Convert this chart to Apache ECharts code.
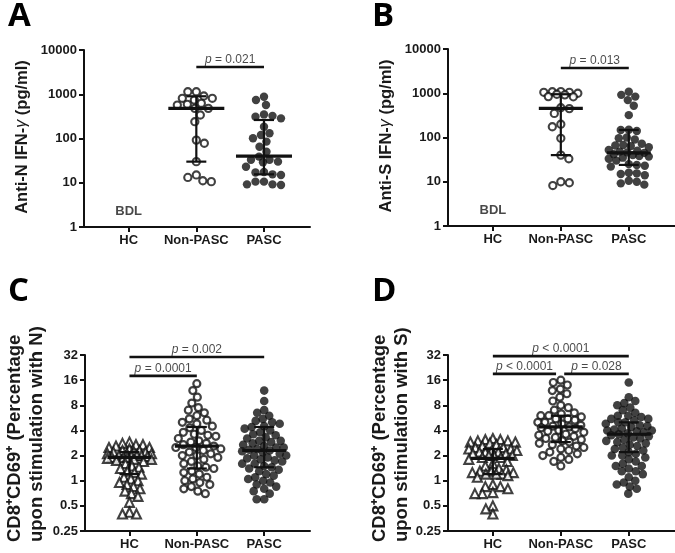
<!DOCTYPE html>
<html><head><meta charset="utf-8">
<script src="https://cdn.jsdelivr.net/npm/echarts@6/dist/echarts.min.js"></script>
<style>html,body{margin:0;padding:0;background:#fff}#c{width:675px;height:553px}</style>
</head><body><div id="c"></div>
<script>
// ---------- data ----------
const categories = ['HC', 'Non-PASC', 'PASC'];
const panelLetters = ['A', 'B', 'C', 'D'];

// Panel A: anti-N IFN-gamma (pg/ml)
const aNonPasc = [1142, 1142, 912, 810, 810, 740, 625, 593, 570, 480, 480, 340, 240, 92, 78, 30, 15, 13.2, 11.1, 10.6];
const aPasc = [880, 740, 570, 350, 325, 310, 285, 184, 131, 120, 101, 85, 65, 50, 39, 33, 33, 30, 29, 23, 17.5, 17, 15.5, 15, 10.6, 10.6, 9.2, 9.2, 8.9];
const aMedian = [null, 480, 40];
const aQ1 = [null, 30, 15.5];
const aQ3 = [null, 900, 262];

// Panel B: anti-S IFN-gamma (pg/ml)
const bNonPasc = [1090, 1080, 1050, 1050, 1000, 950, 920, 840, 830, 470, 450, 350, 200, 175, 96, 40, 33, 10, 9.5, 8.2];
const bPasc = [1080, 920, 840, 700, 520, 320, 150, 148, 140, 100, 96, 90, 72, 68, 66, 64, 60, 52, 50, 48, 46, 45, 42, 40, 38, 37, 35, 33, 30, 25, 24, 23, 22, 16, 15.5, 15, 14, 10.5, 10, 9.2, 8.6];
const bMedian = [null, 457, 45];
const bQ1 = [null, 40, 24];
const bQ3 = [null, 950, 148];

// Panel C: CD8+CD69+ % upon N stimulation
const cHC = [2.9, 2.8, 2.7, 2.7, 2.6, 2.5, 2.5, 2.4, 2.3, 2.3, 2.2, 2.2, 2.2, 2.1, 2.1, 2.1, 2.0, 2.0, 2.0, 2.0, 1.95, 1.9, 1.9, 1.9, 1.85, 1.8, 1.8, 1.75, 1.7, 1.6, 1.5, 1.45, 1.4, 1.3, 1.25, 1.2, 1.1, 1.05, 1.0, 0.95, 0.9, 0.85, 0.8, 0.75, 0.7, 0.65, 0.55, 0.42, 0.40, 0.40];
const cNonPasc = [14.5, 12, 10, 8.5, 7.5, 7, 6.5, 6, 5.5, 5.3, 5, 4.8, 4.5, 4.3, 4.0, 3.8, 3.6, 3.5, 3.4, 3.2, 3.0, 2.9, 2.8, 2.7, 2.6, 2.5, 2.5, 2.4, 2.3, 2.2, 2.1, 2.0, 2.0, 1.9, 1.8, 1.7, 1.6, 1.5, 1.45, 1.4, 1.3, 1.25, 1.2, 1.1, 1.05, 1.0, 0.95, 0.9, 0.85, 0.8, 0.75, 0.7];
const cPasc = [12, 9, 7, 6.5, 6, 5.5, 5.2, 5, 4.8, 4.5, 4.4, 4.2, 4.0, 3.8, 3.6, 3.5, 3.3, 3.2, 3.0, 3.0, 2.9, 2.8, 2.7, 2.6, 2.5, 2.5, 2.4, 2.35, 2.3, 2.25, 2.2, 2.1, 2.0, 2.0, 1.9, 1.85, 1.8, 1.75, 1.7, 1.6, 1.6, 1.5, 1.45, 1.4, 1.35, 1.3, 1.2, 1.15, 1.1, 1.05, 1.0, 0.95, 0.9, 0.85, 0.8, 0.75, 0.7, 0.6, 0.6];
const cMedian = [1.9, 2.6, 2.3];
const cQ1 = [1.2, 1.4, 1.45];
const cQ3 = [2.2, 4.4, 4.4];

// Panel D: CD8+CD69+ % upon S stimulation
const dHC = [3.2, 3.1, 3.1, 3.0, 3.0, 2.9, 2.9, 2.8, 2.7, 2.6, 2.5, 2.5, 2.4, 2.4, 2.3, 2.3, 2.2, 2.2, 2.2, 2.1, 2.1, 2.0, 2.0, 2.0, 1.9, 1.9, 1.8, 1.7, 1.6, 1.5, 1.4, 1.35, 1.3, 1.3, 1.25, 1.25, 1.2, 1.2, 1.2, 1.15, 1.1, 0.9, 0.85, 0.85, 0.8, 0.72, 0.7, 0.7, 0.5, 0.46, 0.4];
const dNonPasc = [16, 15, 14, 12.5, 12, 11, 10, 9, 8, 7.5, 7, 6.5, 6.3, 6, 6, 5.8, 5.5, 5.5, 5.3, 5, 5, 4.8, 4.6, 4.5, 4.4, 4.3, 4.2, 4.0, 3.9, 3.8, 3.6, 3.5, 3.4, 3.3, 3.2, 3.1, 3.0, 2.9, 2.8, 2.7, 2.6, 2.5, 2.4, 2.3, 2.2, 2.1, 2.0, 1.9, 1.8, 1.7, 1.5];
const dPasc = [15, 10, 9, 8.5, 8, 7.5, 7, 6.5, 6, 6, 5.8, 5.5, 5.5, 5.3, 5.0, 5.0, 4.8, 4.6, 4.5, 4.4, 4.2, 4.1, 4.0, 4.0, 3.9, 3.8, 3.7, 3.6, 3.5, 3.4, 3.3, 3.2, 3.1, 3.0, 2.9, 2.8, 2.7, 2.6, 2.5, 2.4, 2.3, 2.2, 2.1, 2.0, 2.0, 1.9, 1.8, 1.7, 1.6, 1.5, 1.5, 1.4, 1.3, 1.3, 1.2, 1.1, 1.0, 0.95, 0.9, 0.85, 0.8, 0.7];
const dMedian = [1.85, 4.4, 3.6];
const dQ1 = [1.2, 2.9, 2.2];
const dQ3 = [2.4, 6.0, 5.0];

// significance brackets: [from group, to group, level, text]
const aBrackets = [[2, 3, 4130, '= 0.021']];
const bBrackets = [[2, 3, 3720, '= 0.013']];
const cBrackets = [[1, 3, 30.3, '= 0.002'], [1, 2, 18, '= 0.0001']];
const dBrackets = [[1, 3, 31, '< 0.0001'], [1, 1.93, 19, '< 0.0001'], [2.05, 3, 19, '= 0.028']];

const bdlLevel = 2.2;
const yTitles = [
  'Anti-N IFN-{g|γ} (pg/ml)',
  'Anti-S IFN-{g|γ} (pg/ml)',
  'CD8⁺CD69⁺ (Percentage\nupon stimulation with N)',
  'CD8⁺CD69⁺ (Percentage\nupon stimulation with S)'
];

// ---------- layout ----------
const grids = [
  {left: 84, top: 50, width: 226, height: 177},
  {left: 448, top: 49, width: 227, height: 177},
  {left: 85, top: 355, width: 225, height: 176},
  {left: 448, top: 355, width: 227, height: 176}
];
const panels = [
  {groups: [null, aNonPasc, aPasc], med: aMedian, q1: aQ1, q3: aQ3, br: aBrackets, base: 10, min: 1, max: 10000, bdl: true, wide: 28, spread: [0, 19, 19], diam: [0, 8.5, 8.5]},
  {groups: [null, bNonPasc, bPasc], med: bMedian, q1: bQ1, q3: bQ3, br: bBrackets, base: 10, min: 1, max: 10000, bdl: true, wide: 22, spread: [0, 19, 20], diam: [0, 8.5, 8]},
  {groups: [cHC, cNonPasc, cPasc], med: cMedian, q1: cQ1, q3: cQ3, br: cBrackets, base: 2, min: 0.25, max: 32, bdl: false, wide: 22, spread: [22, 24, 22], diam: [6.8, 7.8, 7.2]},
  {groups: [dHC, dNonPasc, dPasc], med: dMedian, q1: dQ1, q3: dQ3, br: dBrackets, base: 2, min: 0.25, max: 32, bdl: false, wide: 22, spread: [24, 23, 23], diam: [7.5, 7.8, 7.2]}
];

const INK = '#111';
const TXT = '#1a1a1a';
const FONT = '"Liberation Sans", Arial, sans-serif';

const chart = echarts.init(document.getElementById('c'), null, {renderer: 'canvas'});

const xAxes = grids.map((g, i) => ({
  type: 'value', gridIndex: i, min: 0.34, max: 3.68,
  axisLine: {show: true, onZero: false, lineStyle: {color: INK, width: 2}},
  axisTick: {show: true, customValues: [1, 2, 3], length: 5, lineStyle: {color: INK, width: 2}},
  axisLabel: {show: true, customValues: [1, 2, 3], formatter: v => categories[Math.round(v) - 1] || '',
    fontFamily: FONT, fontWeight: 'bold', fontSize: 13, color: TXT, margin: 7},
  splitLine: {show: false}
}));
const yAxes = panels.map((p, i) => ({
  type: 'log', logBase: p.base, gridIndex: i, min: p.min, max: p.max,
  axisLine: {show: true, onZero: false, lineStyle: {color: INK, width: 2}},
  axisTick: {show: true, length: 5, lineStyle: {color: INK, width: 2}},
  axisLabel: {show: true, formatter: v => String(+Number(v).toPrecision(6)),
    fontFamily: FONT, fontWeight: 'bold', fontSize: 13, color: TXT, margin: 7},
  splitLine: {show: false}, minorTick: {show: false}
}));

const graphic = [];
const letterPos = [[8, 17], [372, 17], [8, 292], [372, 292]];
panelLetters.forEach((L, i) => graphic.push({
  type: 'text', x: letterPos[i][0], y: letterPos[i][1],
  style: {text: L, font: 'bold 33px "Open Sans", sans-serif', fill: '#000', textAlign: 'left', textVerticalAlign: 'middle'}
}));
const titlePos = [[22, 137, 'center'], [386, 136, 'center'], [26, 542, 'left'], [391, 542, 'left']];
yTitles.forEach((t, i) => graphic.push({
  type: 'text', x: titlePos[i][0], y: titlePos[i][1], rotation: Math.PI / 2,
  style: {text: t, font: (i < 2 ? 'bold 16.5px ' : 'bold 18.5px ') + FONT, fill: TXT,
    textAlign: titlePos[i][2], textVerticalAlign: 'middle', lineHeight: 22,
    rich: {g: {font: 'italic 16px ' + FONT, fill: TXT}}}
}));

chart.setOption({animation: false, backgroundColor: '#fff', grid: grids, xAxis: xAxes, yAxis: yAxes, graphic: graphic, series: []});

// ---------- beeswarm placement via the axes' own scales ----------
function swarm(gi, group, values, diam, maxHalf) {
  const ys = values.map(v => chart.convertToPixel({gridIndex: gi}, [group, v])[1]);
  const placed = [];
  return ys.map((y, n) => {
    const sign = n % 2 ? -1 : 1;
    let found = null, bestScore = -1, bestOff = 0;
    for (let s = 0; s <= maxHalf && found === null; s += 0.5) {
      const cands = s === 0 ? [0] : [s * sign, -s * sign];
      for (const off of cands) {
        let minD = Infinity;
        for (const p of placed) {
          const dy = p.y - y;
          if (Math.abs(dy) >= diam) continue;
          const d = Math.hypot(p.x - off, dy);
          if (d < minD) minD = d;
        }
        if (minD >= diam) { found = off; break; }
        if (minD > bestScore) { bestScore = minD; bestOff = off; }
      }
    }
    const o = found !== null ? found : bestOff;
    placed.push({x: o, y: y});
    return o;
  });
}

const series = [];
function markerStyle(k, gi) {
  const big = gi < 2;
  if (k === 0) return {symbol: 'triangle', symbolSize: 9, itemStyle: {color: '#fff', borderColor: INK, borderWidth: 2.1}};
  if (k === 1) return {symbol: 'circle', symbolSize: big ? 7.2 : 7, itemStyle: {color: '#fff', borderColor: INK, borderWidth: big ? 2.1 : 2.2}};
  return {symbol: 'circle', symbolSize: big ? 8.4 : 8.6, itemStyle: {color: INK, borderWidth: 0}};
}
panels.forEach((p, gi) => {
  p.groups.forEach((vals, k) => {
    if (!vals) return;
    const g = k + 1;
    const px0 = chart.convertToPixel({gridIndex: gi}, [g, 1])[0];
    const px1 = chart.convertToPixel({gridIndex: gi}, [g + 1, 1])[0];
    const ppu = px1 - px0;
    const offs = swarm(gi, g, vals, p.diam[k], p.spread[k]);
    series.push(Object.assign({
      type: 'scatter', xAxisIndex: gi, yAxisIndex: gi, silent: true, z: 3,
      data: vals.map((v, n) => [g + offs[n] / ppu, v])
    }, markerStyle(k, gi)));
  });
  // median + IQR
  const rows = [];
  p.med.forEach((m, k) => { if (m != null) rows.push([k + 1, m, p.q1[k], p.q3[k]]); });
  const wide = p.wide;
  series.push({
    type: 'custom', xAxisIndex: gi, yAxisIndex: gi, silent: true, z: 6,
    encode: {x: 0, y: [1, 2, 3]}, data: rows,
    renderItem: (params, api) => {
      const x = api.value(0);
      const pm = api.coord([x, api.value(1)]);
      const pl = api.coord([x, api.value(2)]);
      const ph = api.coord([x, api.value(3)]);
      const st = w => ({stroke: INK, lineWidth: w});
      return {type: 'group', children: [
        {type: 'line', shape: {x1: pm[0], y1: pl[1], x2: pm[0], y2: ph[1]}, style: st(2.2)},
        {type: 'line', shape: {x1: pm[0] - 10, y1: pl[1], x2: pm[0] + 10, y2: pl[1]}, style: st(2.2)},
        {type: 'line', shape: {x1: pm[0] - 10, y1: ph[1], x2: pm[0] + 10, y2: ph[1]}, style: st(2.2)},
        {type: 'line', shape: {x1: pm[0] - wide, y1: pm[1], x2: pm[0] + wide, y2: pm[1]}, style: st(3.2)}
      ]};
    }
  });
  // brackets
  p.br.forEach(b => {
    series.push({
      type: 'line', xAxisIndex: gi, yAxisIndex: gi, silent: true, z: 4,
      showSymbol: false, symbol: 'none', lineStyle: {color: INK, width: 2.6},
      data: [[b[0], b[2]], [b[1], b[2]]]
    });
    series.push({
      type: 'scatter', xAxisIndex: gi, yAxisIndex: gi, silent: true, z: 4,
      symbolSize: 0, itemStyle: {color: 'transparent'},
      label: {show: true, position: 'top', distance: 1, formatter: '{i|p} ' + b[3],
        fontFamily: FONT, fontSize: 12, color: TXT,
        rich: {i: {fontStyle: 'italic', fontFamily: FONT, fontSize: 12, color: TXT}}},
      data: [[(b[0] + b[1]) / 2, b[2]]]
    });
  });
  if (p.bdl) {
    series.push({
      type: 'scatter', xAxisIndex: gi, yAxisIndex: gi, silent: true,
      symbolSize: 0, itemStyle: {color: 'transparent'},
      label: {show: true, position: 'inside', formatter: 'BDL', fontFamily: FONT, fontWeight: 'bold', fontSize: 13, color: TXT},
      data: [[1, bdlLevel]]
    });
  }
});

chart.setOption({series: series});
</script>
</body></html>
